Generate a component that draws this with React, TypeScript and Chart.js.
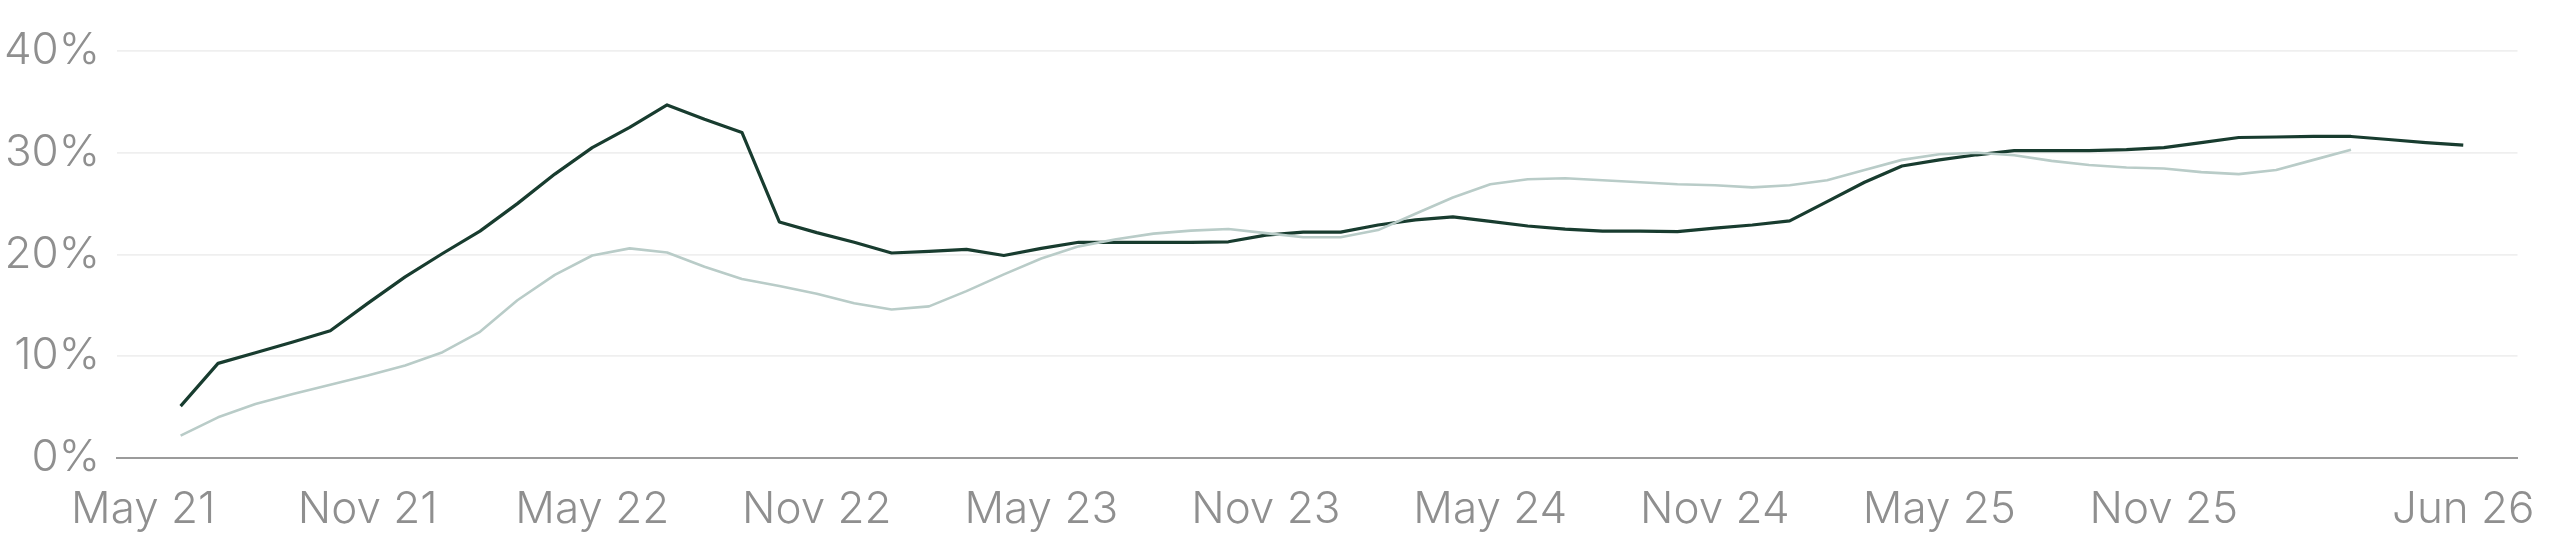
import { useEffect, useRef } from 'react'
import Chart from 'chart.js/auto'

// months counted from May 2021 (0); each data point sits at the end of its month
const tickLabels = ['May 21', 'Nov 21', 'May 22', 'Nov 22', 'May 23', 'Nov 23', 'May 24', 'Nov 24', 'May 25', 'Nov 25', 'Jun 26']
const tickMonths = [0, 6, 12, 18, 24, 30, 36, 42, 48, 54, 62]

// dark series, May 21 .. Jun 26
const darkSeries = [
  5.1, 9.3, 10.35, 11.4, 12.5, 15.2, 17.8, 20.1, 22.3, 25.0,
  27.9, 30.5, 32.5, 34.7, 33.3, 32.0, 23.2, 22.15, 21.2, 20.15,
  20.3, 20.5, 19.9, 20.6, 21.2, 21.2, 21.2, 21.2, 21.25, 21.9,
  22.2, 22.2, 22.9, 23.4, 23.7, 23.25, 22.8, 22.5, 22.3, 22.3,
  22.25, 22.6, 22.9, 23.3, 25.2, 27.1, 28.7, 29.3, 29.8, 30.2,
  30.2, 30.2, 30.3, 30.5, 31.0, 31.5, 31.55, 31.6, 31.6, 31.3,
  31.0, 30.75,
]

// light series, May 21 .. Mar 26
const lightSeries = [
  2.2, 4.0, 5.3, 6.3, 7.2, 8.1, 9.1, 10.4, 12.4, 15.5,
  18.0, 19.9, 20.6, 20.2, 18.8, 17.6, 16.9, 16.15, 15.2, 14.6,
  14.9, 16.4, 18.05, 19.6, 20.8, 21.5, 22.05, 22.35, 22.5, 22.1,
  21.7, 21.7, 22.4, 24.0, 25.6, 26.9, 27.4, 27.5, 27.3, 27.1,
  26.9, 26.8, 26.6, 26.8, 27.3, 28.3, 29.3, 29.85, 30.0, 29.75,
  29.2, 28.8, 28.55, 28.45, 28.1, 27.9, 28.3, 29.3, 30.3,
]

const toPoints = (vals: number[]) => vals.map((y, i) => ({ x: i + 1, y }))

export default function App() {
  const ref = useRef<HTMLCanvasElement>(null)

  useEffect(() => {
    document.body.style.margin = '0'
    if (!ref.current) return
    const font = { family: 'Inter', size: 44, weight: 300 as const }
    const chart = new Chart(ref.current, {
      type: 'line',
      data: {
        datasets: [
          { data: toPoints(lightSeries), borderColor: '#b9ccc8', borderWidth: 2.6, pointRadius: 0, tension: 0, borderJoinStyle: 'round' },
          { data: toPoints(darkSeries), borderColor: '#183c2f', borderWidth: 3.2, pointRadius: 0, tension: 0, borderJoinStyle: 'round' },
        ],
      },
      options: {
        animation: false,
        responsive: false,
        devicePixelRatio: 1,
        layout: { padding: { top: 51, right: 20, left: 0, bottom: 0 } },
        plugins: { legend: { display: false }, tooltip: { enabled: false } },
        scales: {
          x: {
            type: 'linear',
            min: -0.7,
            max: 63.45,
            afterFit: (s: any) => { s.height = 88 },
            afterBuildTicks: (s: any) => { s.ticks = tickMonths.map((value) => ({ value })) },
            grid: { display: false, drawTicks: false },
            border: { display: true, color: '#9b9b9b', width: 2 },
            ticks: {
              autoSkip: false,
              maxRotation: 0,
              padding: 25,
              color: '#8f8f8f',
              font,
              callback: (v: any) => tickLabels[tickMonths.indexOf(Number(v))] ?? '',
            },
          },
          y: {
            min: 0,
            max: 40,
            afterFit: (s: any) => { s.width = 117 },
            grid: { color: '#efefef', lineWidth: 1.7, drawTicks: false },
            border: { display: false },
            ticks: {
              stepSize: 10,
              padding: 17,
              color: '#8f8f8f',
              font,
              callback: (v: any) => v + '%',
            },
          },
        },
      },
    })
    return () => chart.destroy()
  }, [])

  return (
    <div style={{ width: 2560, height: 546, background: '#fff' }}>
      <canvas ref={ref} width={2560} height={546} />
    </div>
  )
}
